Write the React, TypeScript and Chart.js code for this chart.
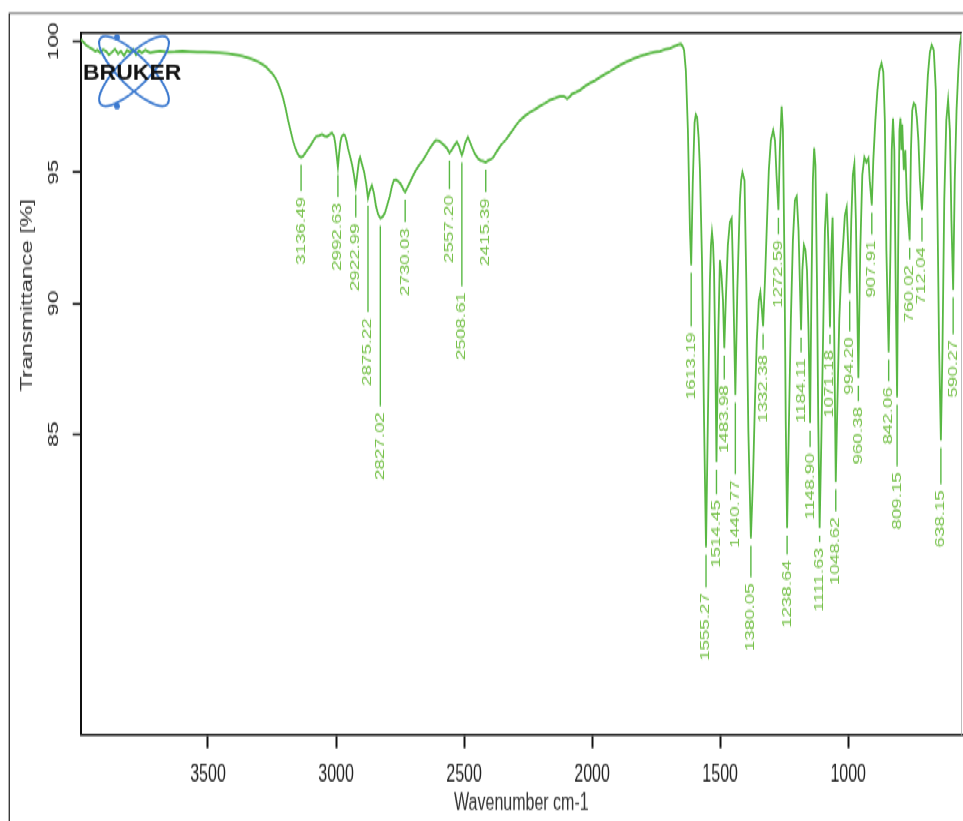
import React, { useEffect, useRef } from 'react';
import { Chart, registerables } from 'chart.js';

Chart.register(...registerables);

// ---------- data ----------
const wavenumber = [
  3997, 3985, 3976, 3965, 3952, 3940, 3932, 3921, 3910, 3898, 3887, 3875, 3863, 3851, 3840, 3828, 3816, 3804, 3792, 3781,
  3769, 3758, 3745, 3726, 3705, 3687, 3660, 3629, 3600, 3570, 3540, 3512, 3480, 3453, 3420, 3394, 3370, 3344, 3320, 3305,
  3285, 3273, 3260, 3250, 3238, 3227, 3217, 3207, 3197, 3188, 3178, 3168, 3160, 3152, 3144, 3136.49, 3128, 3121, 3110, 3101,
  3090, 3078, 3066, 3055, 3045, 3035, 3025, 3016, 3008, 3003, 2997, 2992.63, 2988, 2983, 2978, 2970, 2965, 2958, 2953, 2945,
  2937, 2930, 2922.99, 2916, 2910, 2906, 2900, 2890, 2882, 2875.22, 2868, 2860, 2852, 2844, 2836, 2827.02, 2818, 2809, 2800, 2790,
  2782, 2774, 2766, 2758, 2750, 2742, 2736, 2730.03, 2722, 2711, 2700, 2688, 2675, 2660, 2646, 2633, 2620, 2610, 2598, 2586,
  2575, 2566, 2557.2, 2548, 2539, 2528, 2520, 2514, 2508.61, 2502, 2496, 2485, 2477, 2469, 2458, 2446, 2436, 2426, 2415.39, 2405,
  2395, 2387, 2375, 2365, 2355, 2345, 2336, 2325, 2313, 2298, 2282, 2262, 2243, 2223, 2204, 2184, 2165, 2145, 2126, 2110,
  2098, 2088, 2079, 2063, 2048, 2028, 2009, 1989, 1969, 1950, 1930, 1911, 1891, 1872, 1852, 1833, 1813, 1794, 1774, 1755,
  1735, 1716, 1696, 1680, 1669, 1660, 1653, 1645, 1641, 1634, 1626, 1618, 1613.19, 1607, 1600, 1595, 1590, 1584, 1579, 1571,
  1563, 1555.27, 1548, 1540, 1536, 1532, 1528, 1524, 1519, 1514.45, 1507, 1501, 1495, 1489, 1483.98, 1478, 1470, 1462, 1455, 1450,
  1440.77, 1433, 1423, 1418, 1413, 1405, 1398, 1390, 1380.05, 1372, 1364, 1357, 1349, 1343, 1337, 1332.38, 1325, 1317, 1310, 1302,
  1293, 1286, 1280, 1272.59, 1267, 1260, 1255, 1249, 1244, 1238.64, 1232, 1224, 1216, 1208, 1201, 1194, 1184.11, 1179, 1173, 1167,
  1161, 1155, 1148.9, 1144, 1138, 1133, 1128, 1122, 1117, 1111.63, 1105, 1097, 1091, 1084, 1078, 1071.18, 1066, 1061, 1056, 1048.62,
  1042, 1035, 1027, 1019, 1013, 1006, 1001, 994.2, 988, 982, 976, 970, 960.38, 953, 945, 937, 929, 921, 916, 907.91,
  902, 894, 886, 878, 870, 863, 857, 851, 842.06, 835, 830, 825, 820, 814, 809.15, 805, 800, 796, 792, 789,
  783, 777, 771, 760.02, 755, 750, 744, 738, 732, 726, 720, 712.04, 705, 697, 689, 681, 674, 666, 658, 652,
  645, 638.15, 632, 625, 617, 610, 603, 597, 590.27, 584, 577, 570, 564, 557, 555.7,
];

const transmittance = [
  100.06, 99.95, 99.85, 99.78, 99.7, 99.62, 99.66, 99.55, 99.68, 99.62, 99.48, 99.58, 99.7, 99.52, 99.62, 99.45, 99.66, 99.58, 99.7, 99.48,
  99.64, 99.55, 99.66, 99.56, 99.6, 99.63, 99.59, 99.6, 99.62, 99.6, 99.58, 99.59, 99.57, 99.56, 99.53, 99.48, 99.44, 99.37, 99.29, 99.22,
  99.1, 99.02, 98.88, 98.78, 98.62, 98.4, 98.15, 97.84, 97.45, 97.02, 96.6, 96.2, 95.95, 95.74, 95.62, 95.57, 95.62, 95.72, 95.88, 96.0,
  96.18, 96.36, 96.4, 96.45, 96.38, 96.36, 96.44, 96.5, 96.38, 96.1, 95.6, 95.19, 95.7, 96.15, 96.36, 96.44, 96.4, 96.15, 95.9, 95.6,
  95.27, 94.9, 94.43, 95.0, 95.45, 95.57, 95.35, 95.0, 94.55, 94.01, 94.3, 94.5, 94.2, 93.7, 93.4, 93.24, 93.3, 93.45, 93.75, 94.08,
  94.45, 94.7, 94.72, 94.66, 94.58, 94.45, 94.32, 94.24, 94.4, 94.62, 94.85, 95.08, 95.28, 95.46, 95.7, 95.92, 96.1, 96.22, 96.2, 96.1,
  96.0, 95.9, 95.73, 95.85, 96.0, 96.15, 96.0, 95.8, 95.65, 95.85, 96.1, 96.34, 96.15, 95.95, 95.7, 95.53, 95.45, 95.42, 95.38, 95.45,
  95.5, 95.55, 95.75, 95.9, 96.05, 96.15, 96.25, 96.4, 96.56, 96.78, 96.98, 97.15, 97.29, 97.4, 97.52, 97.63, 97.75, 97.82, 97.9, 97.9,
  97.8, 97.88, 97.98, 98.05, 98.13, 98.28, 98.4, 98.5, 98.63, 98.74, 98.85, 98.97, 99.08, 99.18, 99.27, 99.36, 99.43, 99.48, 99.54, 99.58,
  99.62, 99.68, 99.73, 99.8, 99.85, 99.88, 99.89, 99.78, 99.66, 98.89, 96.6, 92.79, 91.45, 94.6, 96.9, 97.2, 97.1, 96.3, 95.08, 91.64,
  85.53, 80.69, 85.53, 90.88, 92.2, 92.71, 92.3, 91.26, 88.0, 83.93, 88.97, 91.64, 91.07, 90.11, 88.28, 90.11, 92.21, 93.09, 93.24, 91.26,
  86.49, 90.5, 93.93, 94.7, 95.0, 94.69, 90.88, 85.15, 81.03, 83.24, 86.3, 88.59, 90.11, 90.42, 89.73, 89.12, 90.88, 93.17, 95.08, 96.22,
  96.6, 96.22, 94.89, 93.55, 95.84, 97.52, 96.6, 91.64, 85.53, 81.41, 85.15, 89.35, 92.4, 93.93, 94.08, 92.79, 88.97, 91.26, 92.21, 92.02,
  91.26, 88.97, 85.42, 90.11, 94.69, 95.92, 95.27, 90.88, 85.53, 81.41, 84.77, 89.35, 92.79, 94.2, 92.4, 89.08, 92.02, 93.28, 90.11, 83.17,
  86.3, 89.35, 91.26, 92.4, 93.36, 93.66, 92.4, 90.38, 93.17, 94.89, 95.31, 93.17, 87.14, 92.02, 94.89, 95.57, 95.38, 95.53, 94.69, 93.74,
  95.46, 96.98, 98.13, 98.89, 99.16, 98.82, 96.98, 92.02, 88.13, 92.02, 95.84, 97.06, 95.84, 90.11, 86.41, 92.02, 96.6, 97.06, 95.84, 96.83,
  95.08, 95.84, 93.93, 92.4, 95.84, 97.37, 97.63, 97.56, 97.06, 96.22, 94.69, 93.55, 95.08, 97.18, 98.7, 99.58, 99.85, 99.66, 98.13, 93.93,
  88.21, 84.77, 88.21, 93.93, 96.98, 97.75, 96.6, 93.17, 90.5, 94.69, 97.37, 98.89, 99.85, 100.34, 100.5,
];

const xTickValues = [3500, 3000, 2500, 2000, 1500, 1000];
const yTickValues = [100, 95, 90, 85];

const peakLabels = [
  '3136.49', '2992.63', '2922.99', '2875.22', '2827.02', '2730.03', '2557.20', '2508.61', '2415.39',
  '1613.19', '1555.27', '1514.45', '1483.98', '1440.77', '1380.05', '1332.38', '1272.59', '1238.64',
  '1184.11', '1148.90', '1111.63', '1071.18', '1048.62', '994.20', '960.38', '907.91', '842.06',
  '809.15', '760.02', '712.04', '638.15', '590.27',
];
const peakPositions = [
  3136.49, 2992.63, 2922.99, 2875.22, 2827.02, 2730.03, 2557.2, 2508.61, 2415.39,
  1613.19, 1555.27, 1514.45, 1483.98, 1440.77, 1380.05, 1332.38, 1272.59, 1238.64,
  1184.11, 1148.9, 1111.63, 1071.18, 1048.62, 994.2, 960.38, 907.91, 842.06,
  809.15, 760.02, 712.04, 638.15, 590.27,
];
const peakMinima = [
  95.57, 95.19, 94.43, 94.01, 93.24, 94.24, 95.73, 95.65, 95.38,
  91.45, 80.69, 83.93, 88.28, 86.49, 81.03, 89.12, 93.55, 81.41,
  88.97, 85.42, 81.41, 89.08, 83.17, 90.38, 87.14, 93.74, 88.13,
  86.41, 92.4, 93.55, 84.77, 90.5,
];
const labelTops = [
  94.05, 93.82, 93.05, 89.43, 85.84, 92.86, 94.12, 90.42, 94.01,
  88.89, 78.93, 82.48, 86.87, 83.24, 79.31, 88.02, 92.4, 80.19,
  87.9, 84.27, 80.65, 88.21, 81.83, 88.7, 86.03, 92.4, 86.79,
  83.55, 91.45, 92.14, 82.86, 88.59,
];

const xAxisTitle = 'Wavenumber cm-1';
const yAxisTitle = 'Transmittance [%]';
const logoText = 'BRUKER';

// ---------- layout / style ----------
const STRETCH = 1.5;
const CANVAS_W = 963;
const CANVAS_H = 547;
const X_MIN = 555.7;
const X_MAX = 3997;
const Y_MIN = 73.53;
const Y_MAX = 100.32;
const FONT = '"Liberation Sans", Arial, sans-serif';
const LINE_GREEN = '#58b843';
const LABEL_GREEN = '#74c046';

const overlayPlugin = {
  id: 'overlay',
  beforeDraw(chart: any) {
    const { ctx } = chart;
    ctx.save();
    ctx.fillStyle = '#ffffff';
    ctx.fillRect(0, 0, chart.width, chart.height);
    // outer frame (drawn in reference pixel space)
    ctx.scale(1, 1 / STRETCH);
    ctx.strokeStyle = '#3a3a3a';
    ctx.lineWidth = 1.4;
    ctx.beginPath();
    ctx.moveTo(9.3, chart.height * STRETCH + 5);
    ctx.lineTo(9.3, 13.3);
    ctx.lineTo(chart.width + 5, 13.3);
    ctx.stroke();
    ctx.restore();
  },
  afterDraw(chart: any) {
    const { ctx, chartArea } = chart;
    const xs = chart.scales.x;
    const ys = chart.scales.y;
    ctx.save();

    // top + right border of plot box
    ctx.strokeStyle = '#111';
    ctx.lineWidth = 1.5;
    ctx.beginPath();
    ctx.moveTo(chartArea.left, chartArea.top);
    ctx.lineTo(chartArea.right, chartArea.top);
    ctx.stroke();
    ctx.strokeStyle = '#bdbdbd';
    ctx.lineWidth = 1;
    ctx.beginPath();
    ctx.moveTo(chartArea.right - 0.5, chartArea.top);
    ctx.lineTo(chartArea.right - 0.5, chartArea.bottom);
    ctx.stroke();

    // y tick labels (rotated)
    ctx.fillStyle = '#222';
    ctx.font = `15px ${FONT}`;
    ctx.textAlign = 'center';
    ctx.textBaseline = 'middle';
    ys.ticks.forEach((t: any) => {
      const py = ys.getPixelForValue(t.value);
      ctx.save();
      ctx.translate(chartArea.left - 26.7, py);
      ctx.rotate(-Math.PI / 2);
      ctx.fillText(String(t.value), 0, 0);
      ctx.restore();
    });

    // y axis title
    ctx.fillStyle = '#333';
    ctx.font = `16px ${FONT}`;
    ctx.save();
    ctx.translate(28, chartArea.top + (chartArea.bottom - chartArea.top) * 0.3738);
    ctx.rotate(-Math.PI / 2);
    ctx.fillText(yAxisTitle, 0, 0);
    ctx.restore();

    // peak annotations
    ctx.font = `12.5px ${FONT}`;
    ctx.textAlign = 'right';
    ctx.textBaseline = 'middle';
    peakLabels.forEach((lab, i) => {
      const px = xs.getPixelForValue(peakPositions[i]);
      const pPeak = ys.getPixelForValue(peakMinima[i]);
      const pText = ys.getPixelForValue(labelTops[i]);
      const y0 = pPeak + 5;
      const y1 = pText - 4;
      if (y1 > y0) {
        ctx.strokeStyle = LINE_GREEN;
        ctx.lineWidth = 1.4;
        ctx.beginPath();
        ctx.moveTo(px, y0);
        ctx.lineTo(px, y1);
        ctx.stroke();
      }
      ctx.save();
      ctx.fillStyle = LABEL_GREEN;
      ctx.translate(px, pText);
      ctx.rotate(-Math.PI / 2);
      ctx.fillText(lab, 0, 0);
      ctx.restore();
    });

    // Bruker logo (reference pixel space)
    ctx.save();
    ctx.scale(1, 1 / STRETCH);
    ctx.strokeStyle = '#3b79cf';
    ctx.lineWidth = 2.2;
    [Math.PI / 4, -Math.PI / 4].forEach((rot) => {
      ctx.beginPath();
      ctx.ellipse(134, 71, 47, 15, rot, 0, Math.PI * 2);
      ctx.stroke();
    });
    ctx.fillStyle = '#3b79cf';
    [[117, 37], [117, 106]].forEach(([cx, cy]) => {
      ctx.beginPath();
      ctx.arc(cx, cy, 3, 0, Math.PI * 2);
      ctx.fill();
    });
    ctx.fillStyle = '#111';
    ctx.font = `bold 23px ${FONT}`;
    ctx.textAlign = 'left';
    ctx.textBaseline = 'alphabetic';
    ctx.fillText(logoText, 83, 80);
    ctx.restore();

    ctx.restore();
  },
};

export default function App() {
  const canvasRef = useRef<HTMLCanvasElement>(null);

  useEffect(() => {
    document.documentElement.style.overflow = 'hidden';
    const canvas = canvasRef.current;
    if (!canvas) return;
    const chart = new Chart(canvas, {
      type: 'line',
      data: {
        datasets: [
          {
            data: wavenumber.map((w, i) => ({ x: w, y: transmittance[i] })),
            borderColor: LINE_GREEN,
            borderWidth: 1.8,
            pointRadius: 0,
            tension: 0,
            fill: false,
          },
        ],
      },
      options: {
        animation: false,
        responsive: false,
        maintainAspectRatio: false,
        devicePixelRatio: 1,
        layout: { padding: { top: 21.8, right: 1, left: 0, bottom: 0 } },
        plugins: { legend: { display: false }, tooltip: { enabled: false } },
        scales: {
          x: {
            type: 'linear',
            reverse: true,
            min: X_MIN,
            max: X_MAX,
            afterBuildTicks: (s: any) => {
              s.ticks = xTickValues.map((v) => ({ value: v }));
            },
            afterFit: (s: any) => {
              s.height = CANVAS_H - 489.7;
            },
            grid: {
              display: true,
              drawOnChartArea: false,
              drawTicks: true,
              tickLength: 9,
              tickWidth: 2,
              tickColor: '#111',
              color: '#111',
            },
            border: { display: true, color: '#111', width: 1.6 },
            ticks: {
              color: '#222',
              font: { family: FONT, size: 16 },
              padding: 8,
              maxRotation: 0,
              autoSkip: false,
              callback: (v: any) => String(v),
            },
            title: {
              display: true,
              text: xAxisTitle,
              color: '#333',
              font: { family: FONT, size: 16 },
              padding: { top: 0, bottom: 2 },
            },
          },
          y: {
            type: 'linear',
            min: Y_MIN,
            max: Y_MAX,
            afterBuildTicks: (s: any) => {
              s.ticks = yTickValues.map((v) => ({ value: v }));
            },
            afterFit: (s: any) => {
              s.width = 80.7;
            },
            grid: {
              display: true,
              drawOnChartArea: false,
              drawTicks: true,
              tickLength: 8,
              tickWidth: 1.4,
              tickColor: '#111',
              color: '#111',
            },
            border: { display: true, color: '#111', width: 2 },
            ticks: { display: false },
            title: { display: false },
          },
        },
      },
      plugins: [overlayPlugin],
    } as any);
    return () => chart.destroy();
  }, []);

  return (
    <div
      style={{
        position: 'absolute',
        left: 0,
        top: 0,
        width: CANVAS_W,
        height: CANVAS_H,
        transform: `scaleY(${STRETCH})`,
        transformOrigin: '0 0',
        background: '#fff',
      }}
    >
      <canvas
        ref={canvasRef}
        width={CANVAS_W}
        height={CANVAS_H}
        style={{ display: 'block', width: CANVAS_W, height: CANVAS_H }}
      />
    </div>
  );
}
